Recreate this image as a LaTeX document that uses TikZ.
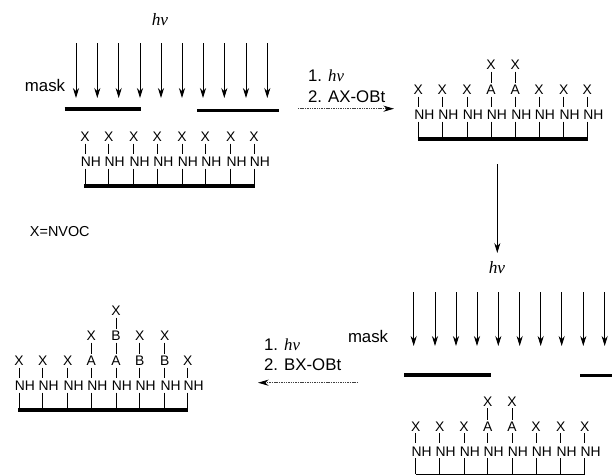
\documentclass[tikz,border=0pt]{standalone}
\usepackage{fontspec}
\setmainfont{Liberation Sans}
\newfontfamily\hvfont{Liberation Serif}
\usetikzlibrary{arrows.meta,calc}
\newcommand\hnu{{\hvfont\itshape hν}}
\tikzset{
  lab/.style={font=\fontsize{10.4}{12}\selectfont,inner sep=1.2pt,outer sep=0pt,text height=7.4pt,text depth=0pt},
  txt/.style={font=\fontsize{12.6}{14}\selectfont,inner sep=0pt,outer sep=0pt,anchor=west},
  note/.style={font=\fontsize{10.8}{13}\selectfont,inner sep=0pt,outer sep=0pt,anchor=west},
  hvtxt/.style={font=\fontsize{13}{15}\selectfont,inner sep=0pt},
  bond/.style={line width=.6pt,black},
  ray/.style={line width=.7pt,black,-{Stealth[length=7.5pt,width=4.6pt]}},
  reagent/.style={line width=.6pt,black!75,dash pattern=on .8pt off .5pt,-{Stealth[length=8pt,width=4.6pt,color=black]}},
  solid/.style={line width=2.5pt,black},
  basebar/.style={line width=2.8pt,black},
}
\newcommand\chain[5]{%
  \node[lab] (#1) at (#2+6,#3) {NH};
  \coordinate (#1s) at (#2,#3);
  \coordinate (#1b) at (#2,#4);
  \coordinate (#1l0) at (#2,#3-8.5);
  \draw[bond] (#1s |- #1.south) -- (#1b);
  \foreach \lab [count=\k] in #5{
    \pgfmathtruncatemacro\pk{\k-1}
    \node[lab] (#1l\k) at (#2,#3-25*\k) {\lab};
    \draw[bond] (#1l\k) -- (#1l\pk);
  }
}
\begin{document}
\begin{tikzpicture}[x=.75pt,y=-.75pt]
\useasboundingbox (0,0) rectangle (612,475);
% panel 1
\node[hvtxt] (hv1) at (160,20) {\hnu};
\foreach \i/\x in {1/76,2/97.3,3/118.7,4/140,5/161,6/182,7/203,8/224.3,9/246,10/267.3}{
  \coordinate (ra\i) at (\x,43); \coordinate (rb\i) at (\x,98);
  \draw[ray] (ra\i) -- (rb\i);
}
\node[txt] (mask1) at (25,85) {mask};
\coordinate (m1a) at (64.5,109); \coordinate (m1b) at (140.7,109);
\coordinate (m1c) at (197,110.5); \coordinate (m1d) at (279,110.5);
\draw[solid] (m1a) -- (m1b);
\draw[solid] (m1c) -- (m1d);
\foreach \i/\x/\l in {1/85/{X},2/108.7/{X},3/133.7/{X},4/157.3/{X},5/182/{X},6/205.3/{X},7/230.7/{X},8/254/{X}}{
  \chain{a\i}{\x}{162}{186}{\l}
}
\draw[basebar] ($(a1b)+(-.6,0)$) -- ($(a8b)+(.6,0)$);
% reagent 1
\node[txt] (r1a) at (308,76) {1. \hnu};
\node[txt] (r1b) at (308,97) {2. AX-OBt};
\coordinate (r1s) at (298,108.7); \coordinate (r1e) at (394,108.7);
\draw[reagent] (r1s) -- (r1e);
% panel 2
\foreach \i/\x/\l in {1/418.3/{X},2/442.3/{X},3/467/{X},4/491/{A,X},5/515.3/{A,X},6/539/{X},7/563.7/{X},8/587.3/{X}}{
  \chain{b\i}{\x}{115}{139}{\l}
}
\draw[basebar] ($(b1b)+(-.6,0)$) -- ($(b8b)+(.6,0)$);
\coordinate (d1) at (497.3,164); \coordinate (d2) at (497.3,253);
\draw[ray] (d1) -- (d2);
% panel 3
\node[hvtxt] (hv2) at (497,268) {\hnu};
\foreach \i/\x in {1/413.7,2/435,3/456,4/477,5/498.3,6/519.7,7/540.7,8/561.7,9/583.3,10/604.7}{
  \coordinate (sa\i) at (\x,292); \coordinate (sb\i) at (\x,346);
  \draw[ray] (sa\i) -- (sb\i);
}
\node[txt] (mask2) at (348,336.5) {mask};
\coordinate (m2a) at (404,375); \coordinate (m2b) at (491,375);
\coordinate (m2c) at (580,375.5); \coordinate (m2d) at (612,375.5);
\draw[solid] (m2a) -- (m2b);
\draw[solid] (m2c) -- (m2d);
\foreach \i/\x/\l in {1/415.7/{X},2/439.7/{X},3/464/{X},4/487.7/{A,X},5/512/{A,X},6/536/{X},7/560.7/{X},8/584.7/{X}}{
  \chain{c\i}{\x}{451.7}{474}{\l}
}
\draw[bond] (c1b) -- (c8b);
% reagent 2
\node[txt] (r2a) at (264,345) {1. \hnu};
\node[txt] (r2b) at (264,365) {2. BX-OBt};
\coordinate (r2s) at (358,382.7); \coordinate (r2e) at (258,382.7);
\draw[reagent] (r2s) -- (r2e);
% panel 4
\foreach \i/\x/\l in {1/19/{X},2/42.7/{X},3/67.7/{X},4/91.3/{A,X},5/116/{A,B,X},6/139.7/{B,X},7/164.7/{B,X},8/187.7/{X}}{
  \chain{e\i}{\x}{386}{410}{\l}
}
\draw[basebar] ($(e1b)+(-.6,0)$) -- ($(e8b)+(.6,0)$);
\node[note] (nvoc) at (30,232) {X=NVOC};
\end{tikzpicture}
\end{document}
